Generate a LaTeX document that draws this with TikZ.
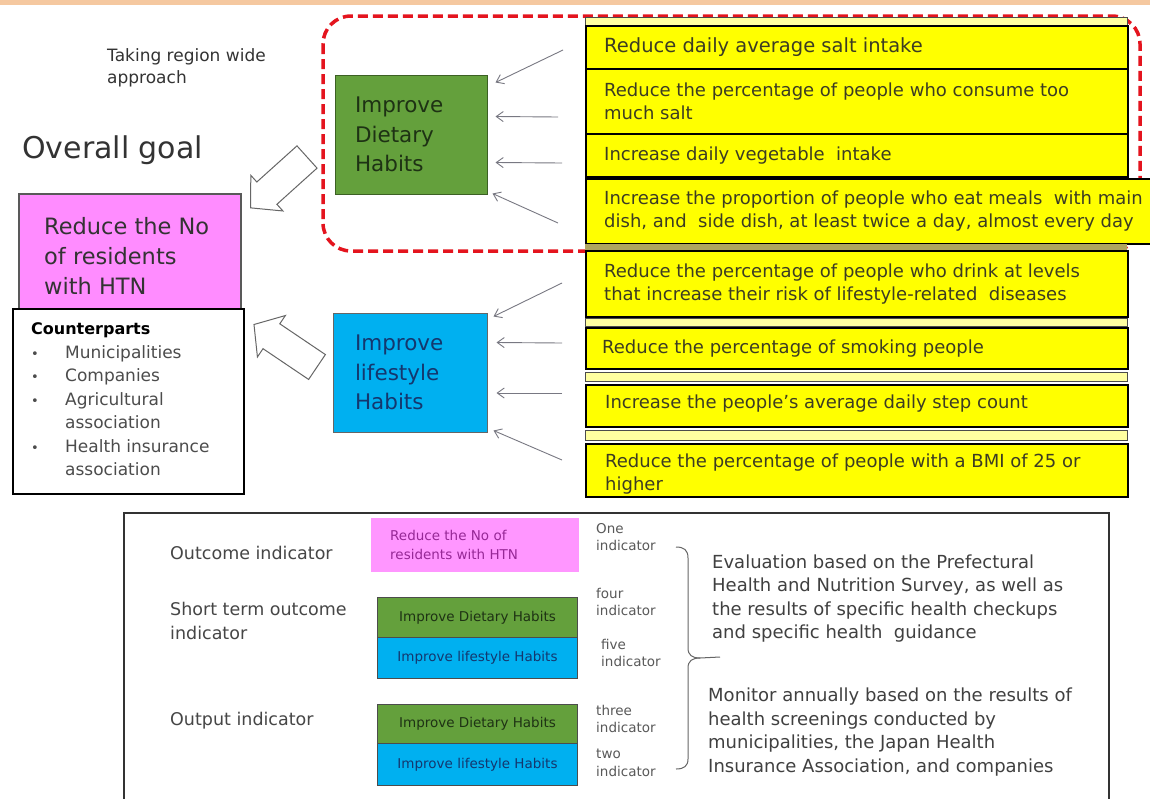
\documentclass[tikz,border=0pt]{standalone}
\usepackage{fontspec}
\setmainfont{DejaVu Sans}
\usetikzlibrary{arrows.meta,calc}
\definecolor{ybox}{RGB}{255,255,0}
\definecolor{ystrip}{RGB}{255,255,160}
\definecolor{ybar}{RGB}{175,165,95}
\definecolor{gfill}{RGB}{100,160,60}
\definecolor{bfill}{RGB}{0,176,240}
\definecolor{pfill}{RGB}{255,140,255}
\definecolor{psmall}{RGB}{255,150,255}
\definecolor{txt}{RGB}{70,70,70}
\definecolor{ytxt}{RGB}{60,60,35}
\definecolor{reddash}{RGB}{228,20,30}
\definecolor{topbar}{RGB}{245,200,160}
\definecolor{arrgray}{RGB}{120,120,130}
\definecolor{gtxt}{RGB}{30,50,20}
\definecolor{btxt}{RGB}{20,55,110}
\definecolor{ptxt}{RGB}{150,40,150}
\newcommand{\fsz}[2]{\fontsize{#1}{#2}\selectfont}
\begin{document}
\begin{tikzpicture}[x=1pt,y=-1pt,
  ybx/.style={draw=black, line width=1.6pt, fill=ybox, anchor=north west, minimum width=542pt, inner sep=0pt},
  ystr/.style={draw=black!70, line width=0.9pt, fill=ystrip, anchor=north west, minimum width=542pt, inner sep=0pt},
  ytx/.style={anchor=west, align=left, inner sep=0pt, text=ytxt, font=\fsz{18}{23}},
  arr/.style={draw=arrgray, line width=0.9pt, -{Straight Barb[length=7pt,width=10pt]}},
  hollow/.style={draw=black!60, line width=1pt, fill=white, line join=miter},
  lbl/.style={anchor=west, align=left, inner sep=0pt, text=txt, font=\fsz{17.5}{24}},
  sml/.style={anchor=west, align=left, inner sep=0pt, text=black!65, font=\fsz{13.5}{17.5}},
  sbox/.style={anchor=north west, minimum width=200pt, inner sep=0pt, font=\fsz{13.5}{17}},
  note/.style={anchor=west, align=left, inner sep=0pt, text=black!75, font=\fsz{18}{23.5}}
]
\useasboundingbox (0,0) rectangle (1150,798);
\fill[white] (0,0) rectangle (1150,798);
\fill[topbar] (0,0) rectangle (1150,5);

% red dashed group
\draw[reddash, line width=3.5pt, dash pattern=on 10pt off 5pt, rounded corners=28pt] (323,16) rectangle (1140,251);

% yellow boxes
\node[ystr, minimum height=8pt] (ys0) at (585,17) {};
\node[ybx, minimum height=43pt] (y1) at (585,25) {};
\node[ytx, font=\fsz{19.5}{24}] (t1) at ($(y1.west)+(19,0)$) {Reduce daily average salt intake};
\node[ybx, minimum height=65pt] (y2) at (585,68) {};
\node[ytx] (t2) at ($(y2.west)+(19,0)$) {Reduce the percentage of people who consume too\\much salt};
\node[ybx, minimum height=43pt] (y3) at (585,133) {};
\node[ytx] (t3) at ($(y3.west)+(19,0)$) {Increase daily vegetable\ \ intake};
\node[ybx, minimum height=65pt, minimum width=570pt] (y4) at (585,178) {};
\node[ytx] (t4) at ($(y4.west)+(19,0)$) {Increase the proportion of people who eat meals\ \ with main\\dish, and\ \ side dish, at least twice a day, almost every day};
\node[anchor=north west, fill=ybar, minimum width=542pt, minimum height=6pt, inner sep=0pt] (ys4) at (585,244) {};
\node[ybx, minimum height=66pt] (y5) at (585,250) {};
\node[ytx] (t5) at ($(y5.west)+(19,0)$) {Reduce the percentage of people who drink at levels\\that increase their risk of lifestyle-related\ \ diseases};
\node[ystr, minimum height=8pt] (ys5) at (585,318) {};
\node[ybx, minimum height=41pt] (y6) at (585,327) {};
\node[ytx] (t6) at ($(y6.west)+(17,0)$) {Reduce the percentage of smoking people};
\node[ystr, minimum height=9pt] (ys6) at (585,372) {};
\node[ybx, minimum height=42pt] (y7) at (585,384) {};
\node[ytx] (t7) at ($(y7.west)+(20,-2)$) {Increase the people's average daily step count};
\node[ystr, minimum height=10pt] (ys7) at (585,430) {};
\node[ybx, minimum height=53pt] (y8) at (585,443) {};
\node[ytx] (t8) at ($(y8.west)+(20,4)$) {Reduce the percentage of people with a BMI of 25 or\\higher};

% middle boxes
\node[draw=gfill!60!black, line width=1pt, fill=gfill, minimum width=152pt, minimum height=119pt, inner xsep=20pt, text width=112pt, align=left, text=gtxt, font=\fsz{21.5}{29.5}] (diet) at (411,134.5) {Improve\\Dietary\\Habits};
\node[draw=black!60, line width=1pt, fill=bfill, minimum width=154pt, minimum height=119pt, inner xsep=22pt, text width=110pt, align=left, text=btxt, font=\fsz{21.5}{29.5}] (life) at (410,372.5) {Improve\\lifestyle\\Habits};

% thin arrows
\coordinate (s1) at (563,50);
\coordinate (s2) at (558,117);
\coordinate (s3) at (562,163);
\coordinate (s4) at (558,223);
\coordinate (s5) at (562,283);
\coordinate (s6) at (562,343);
\coordinate (s7) at (562,393);
\coordinate (s8) at (562,460);
\draw[arr] (s1) -- ($(diet.north east)+(8,8)$);
\draw[arr] (s2) -- ($(diet.east)+(8,-18)$);
\draw[arr] (s3) -- ($(diet.east)+(8,28)$);
\draw[arr] (s4) -- ($(diet.south east)+(5,-1)$);
\draw[arr] (s5) -- ($(life.north east)+(6,4)$);
\draw[arr] (s6) -- ($(life.east)+(9,-30)$);
\draw[arr] (s7) -- ($(life.east)+(9,20.5)$);
\draw[arr] (s8) -- ($(life.south east)+(6,-2)$);

% left side
\node[anchor=west, inner sep=0pt, text=black!80, font=\fsz{17}{22}, align=left] (twide) at (107,68) {Taking region wide\\approach};
\node[anchor=west, inner sep=0pt, text=black!80, font=\fsz{30}{36}] (og) at (22,150) {Overall goal};
\node[draw=black!65, line width=1.5pt, fill=pfill, anchor=north west, minimum width=222pt, minimum height=115pt] (goal) at (18,193) {};
\node[anchor=west, inner sep=0pt, align=left, text=black!80, font=\fsz{22.5}{30}] (goalt) at ($(goal.west)+(26,5)$) {Reduce the No\\of residents\\with HTN};
\node[draw=black, line width=1.6pt, fill=white, anchor=north west, minimum width=231pt, minimum height=185pt] (cp) at (12,308) {};
\node[anchor=north west, inner sep=0pt, text=black!70, font=\fsz{17}{23.5}] (cpt) at (31,318) {\begin{tabular}{@{}p{34pt}@{}l@{}}
\multicolumn{2}{@{}l@{}}{\color{black}\fsz{16}{23.5}\bfseries Counterparts}\\
{\fsz{13}{23.5}\textbullet} & Municipalities\\
{\fsz{13}{23.5}\textbullet} & Companies\\
{\fsz{13}{23.5}\textbullet} & Agricultural\\
 & association\\
{\fsz{13}{23.5}\textbullet} & Health insurance\\
 & association
\end{tabular}};

% hollow arrows
\begin{scope}[shift={(307,157)}, rotate=222]
\draw[hollow] (0,-15) -- (54,-15) -- (54,-24) -- (76,0) -- (54,24) -- (54,15) -- (0,15) -- cycle;
\end{scope}
\begin{scope}[shift={(317,367)}, rotate=146]
\draw[hollow] (0,-15) -- (55,-15) -- (55,-25) -- (76,0) -- (55,25) -- (55,15) -- (0,15) -- cycle;
\end{scope}

% bottom panel
\node[draw=black!80, line width=2pt, anchor=north west, minimum width=985pt, minimum height=310pt, inner sep=0pt] (panel) at (123,512) {};
\node[lbl] (oi) at (170,553) {Outcome indicator};
\node[lbl] (sti) at (170,621) {Short term outcome\\indicator};
\node[lbl] (opi) at (170,721) {Output indicator};

\node[sbox, fill=psmall, minimum width=208pt, minimum height=54pt] (pb) at (371,518) {};
\node[anchor=west, inner sep=0pt, align=left, text=ptxt, font=\fsz{13.5}{19}] (pbt) at ($(pb.west)+(19,0)$) {Reduce the No of\\residents with HTN};
\node[sbox, fill=gfill, draw=black!70, line width=1pt, minimum height=40pt, text=gtxt] (g1) at (377,597) {Improve Dietary Habits};
\node[sbox, fill=bfill, draw=black!70, line width=1pt, minimum height=41pt, text=btxt] (b1) at (377,637) {Improve lifestyle Habits};
\node[sbox, fill=gfill, draw=black!70, line width=1pt, minimum height=39pt, text=gtxt] (g2) at (377,704) {Improve Dietary Habits};
\node[sbox, fill=bfill, draw=black!70, line width=1pt, minimum height=42pt, text=btxt] (b2) at (377,743) {Improve lifestyle Habits};

\node[sml] (n1) at (596,537) {One\\indicator};
\node[sml] (n2) at (596,602) {four\\indicator};
\node[sml] (n3) at (601,653) {five\\indicator};
\node[sml] (n4) at (596,719) {three\\indicator};
\node[sml] (n5) at (596,763) {two\\indicator};

% brace
\coordinate (bt) at (676,547);
\coordinate (bm) at (700,658);
\coordinate (bx) at (720,657);
\coordinate (bb) at (676,769);
\draw[black!60, line width=1pt] (bt) .. controls (684,547) and (688,550) .. (688,558) -- (688,648) .. controls (688,655) and (692,658) .. (bm) -- (bx);
\draw[black!60, line width=1pt] (bm) .. controls (692,658) and (688,661) .. (688,668) -- (688,759) .. controls (688,766) and (684,769) .. (bb);

\node[note] (ev) at (712,598.5) {Evaluation based on the Prefectural\\Health and Nutrition Survey, as well as\\the results of specific health checkups\\and specific health\ \ guidance};
\node[note] (mo) at (708,732) {Monitor annually based on the results of\\health screenings conducted by\\municipalities, the Japan Health\\Insurance Association, and companies};
\end{tikzpicture}
\end{document}
